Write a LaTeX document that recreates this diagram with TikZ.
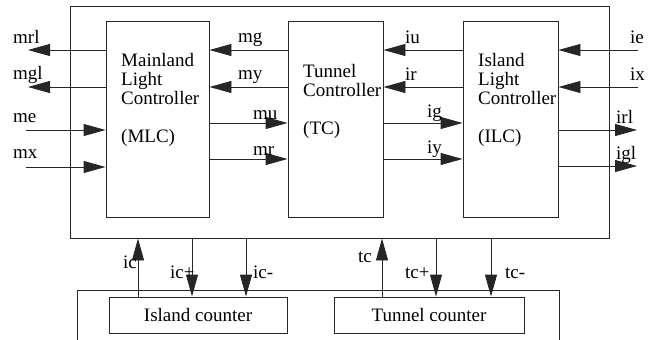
\documentclass[tikz,border=0pt]{standalone}
\usepackage{fontspec}
\setmainfont{Liberation Serif}
\usetikzlibrary{arrows.meta}
\begin{document}
\begin{tikzpicture}[x=1pt,y=-1pt,
  font=\fontsize{19}{19}\selectfont,
  ln/.style={line width=0.9pt, draw=black!85},
  box/.style={ln, draw, inner sep=0pt},
  arr/.style={ln, -{Triangle[length=22pt,width=12pt]}},
  lbl/.style={anchor=base west, inner sep=0pt},
  txt/.style={anchor=north west, align=left, inner sep=0pt}]
\useasboundingbox (0,0) rectangle (656,340);
% boxes
\node[box, minimum width=539pt, minimum height=232pt] (top) at (339.5,122) {};
\node[box, minimum width=103pt, minimum height=196pt] (MLC) at (157.5,119) {};
\node[box, minimum width=95pt, minimum height=196pt] (TC) at (335.5,119) {};
\node[box, minimum width=95pt, minimum height=196pt] (ILC) at (510.5,119) {};
\node[box, minimum width=178pt, minimum height=36pt] (IC) at (198,315) {};
\node[box, minimum width=190pt, minimum height=36pt] (TCN) at (429,315) {};
\node[inner sep=0pt] (ICt) at (IC.center) {Island counter};
\node[inner sep=0pt] (TCNt) at (TCN.center) {Tunnel counter};
% lower open frame
\draw[ln] (77,340) -- (77,290) -- (559,290) -- (559,340);
% box texts
\node[txt] (MLCt) at (121,53) {Mainland\\Light\\Controller\\[19pt](MLC)};
\node[txt] (TCt) at (303,64) {Tunnel\\Controller\\[19pt](TC)};
\node[txt] (ILCt) at (478,53) {Island\\Light\\Controller\\[19pt](ILC)};
% row coordinates
\coordinate (r1) at (0,50);
\coordinate (r2) at (0,87);
\coordinate (r3) at (0,123);
\coordinate (r4) at (0,159);
% free ends
\coordinate (mrlE) at (28,50);
\coordinate (mglE) at (28,87);
\coordinate (meS) at (26,130);
\coordinate (mxS) at (26,167);
\coordinate (ieS) at (638,50);
\coordinate (ixS) at (638,87);
\coordinate (irlE) at (637,130);
\coordinate (iglE) at (637,166);
% left side
\draw[arr] (MLC.west |- mrlE) -- (mrlE);
\draw[arr] (MLC.west |- mglE) -- (mglE);
\draw[arr] (meS) -- (MLC.west |- meS);
\draw[arr] (mxS) -- (MLC.west |- mxS);
% MLC <-> TC
\draw[arr] (TC.west |- r1) -- (MLC.east |- r1);
\draw[arr] (TC.west |- r2) -- (MLC.east |- r2);
\draw[arr] (MLC.east |- r3) -- (TC.west |- r3);
\draw[arr] (MLC.east |- r4) -- (TC.west |- r4);
% TC <-> ILC
\draw[arr] (ILC.west |- r1) -- (TC.east |- r1);
\draw[arr] (ILC.west |- r2) -- (TC.east |- r2);
\draw[arr] (TC.east |- r3) -- (ILC.west |- r3);
\draw[arr] (TC.east |- r4) -- (ILC.west |- r4);
% right side
\draw[arr] (ieS) -- (ILC.east |- ieS);
\draw[arr] (ixS) -- (ILC.east |- ixS);
\draw[arr] (ILC.east |- irlE) -- (irlE);
\draw[arr] (ILC.east |- iglE) -- (iglE);
% bottom connectors
\coordinate (cic) at (138,0);
\coordinate (cicp) at (192,0);
\coordinate (cicm) at (246,0);
\coordinate (ctc) at (382,0);
\coordinate (ctcp) at (436,0);
\coordinate (ctcm) at (491,0);
\draw[arr] (IC.north -| cic) -- (top.south -| cic);
\draw[arr] (top.south -| cicp) -- (IC.north -| cicp);
\draw[arr] (top.south -| cicm) -- (IC.north -| cicm);
\draw[arr] (TCN.north -| ctc) -- (top.south -| ctc);
\draw[arr] (top.south -| ctcp) -- (TCN.north -| ctcp);
\draw[arr] (top.south -| ctcm) -- (TCN.north -| ctcm);
% labels
\node[lbl] (lmrl) at (13,43) {mrl};
\node[lbl] (lmgl) at (13,79) {mgl};
\node[lbl] (lme) at (13,122) {me};
\node[lbl] (lmx) at (13,158) {mx};
\node[lbl] (lmg) at (238,42) {mg};
\node[lbl] (lmy) at (238,79) {my};
\node[lbl] (lmu) at (253,119) {mu};
\node[lbl] (lmr) at (253,155) {mr};
\node[lbl] (liu) at (405,43) {iu};
\node[lbl] (lir) at (405,80) {ir};
\node[lbl] (lig) at (427,117) {ig};
\node[lbl] (liy) at (427,153) {iy};
\node[lbl] (lie) at (630,43) {ie};
\node[lbl] (lix) at (630,80) {ix};
\node[lbl] (lirl) at (616,123) {irl};
\node[lbl] (ligl) at (616,159) {igl};
\node[lbl] (lic) at (123,268) {ic};
\node[lbl] (licp) at (170,278) {ic+};
\node[lbl] (licm) at (253,278) {ic-};
\node[lbl] (ltc) at (358,262) {tc};
\node[lbl] (ltcp) at (405,278) {tc+};
\node[lbl] (ltcm) at (505,278) {tc-};
\end{tikzpicture}
\end{document}
